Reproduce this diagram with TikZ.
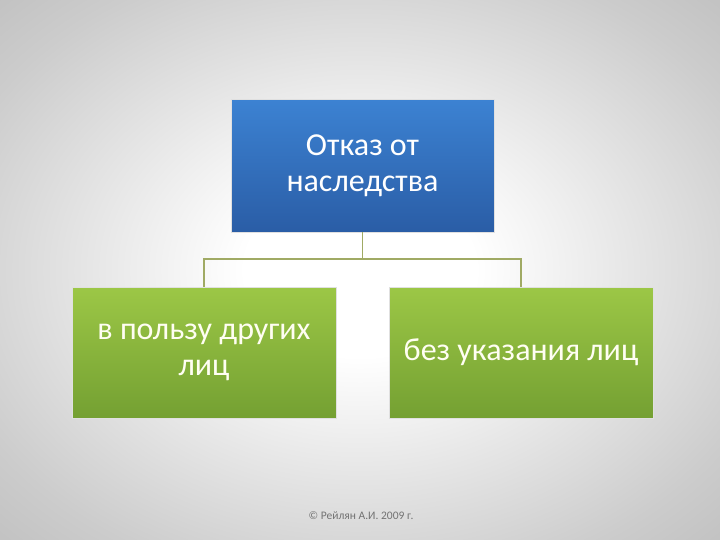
\documentclass[tikz,border=0pt]{standalone}
\usepackage{fontspec}
\setmainfont{Carlito}
\usetikzlibrary{calc}
\definecolor{bluetop}{HTML}{3C82D2}
\definecolor{bluebot}{HTML}{2A5DA6}
\definecolor{greentop}{HTML}{9CC746}
\definecolor{greenbot}{HTML}{74A032}
\definecolor{linec}{HTML}{A0AA64}
\pgfdeclareradialshading{bgshade}{\pgfpoint{0bp}{0bp}}{%
  color(0bp)=(white); color(8bp)=(white); color(30bp)=(black!20); color(50bp)=(black!34); color(71bp)=(black!42)}
\tikzset{
  bluebox/.style={top color=bluetop, bottom color=bluebot,
    minimum width=263pt, minimum height=132pt, text=white, align=center,
    font=\fontsize{32}{36}\selectfont, inner sep=0pt},
  greenbox/.style={top color=greentop, bottom color=greenbot,
    minimum width=264pt, minimum height=131pt, text=white!95!yellow, align=center,
    font=\fontsize{32}{36}\selectfont, inner sep=0pt},
  edge/.style={draw=white!88!black, line width=0.6pt},
  conn/.style={draw=linec, line width=1.6pt},
}
\begin{document}
\begin{tikzpicture}[x=1pt,y=-1pt]
\useasboundingbox (0,0) rectangle (720,540);
\shade[shading=bgshade] (0,0) rectangle (720,540);
\node[bluebox] (top) at (362.5,166) {Отказ от\\наследства};
\node[greenbox] (left) at (204,352.5) {в пользу других\\лиц};
\node[greenbox] (right) at (521,352.5) {без указания лиц};
\foreach \n in {top,left,right}
  \draw[edge] (\n.north west) rectangle (\n.south east);
\coordinate (mid) at (362.5,259);
\draw[conn] (top.south) -- (mid);
\draw[conn] (left.north) |- (mid) -| (right.north);
\node[text=black!55, font=\fontsize{11.5}{13}\selectfont] (copy) at (361,516) {© Рейлян А.И. 2009 г.};
\end{tikzpicture}
\end{document}
